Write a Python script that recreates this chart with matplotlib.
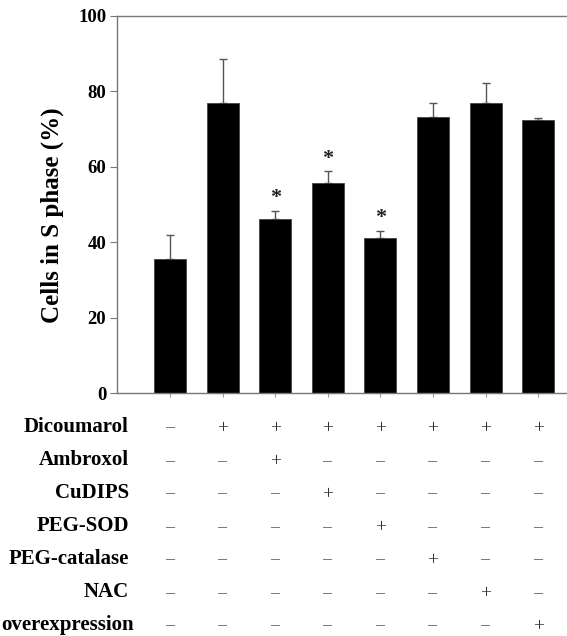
import numpy as np
import matplotlib.pyplot as plt

# bar data
means = [35.6, 76.8, 46.2, 55.8, 41.1, 73.2, 76.9, 72.3]
errors = [6.2, 11.9, 2.0, 3.0, 2.0, 3.8, 5.4, 0.7]
starred = [False, False, True, True, True, False, False, False]

rowLabels = ['Dicoumarol', 'Ambroxol', 'CuDIPS', 'PEG-SOD',
             'PEG-catalase', 'NAC', 'overexpression']
# + / - table, one row per treatment
signs = [
  '-+++++++',
  '--+-----',
  '---+----',
  '----+---',
  '-----+--',
  '------+-',
  '-------+',
]
yTicks = [0, 20, 40, 60, 80, 100]

W, H = 567, 636
plt.rcParams['font.family'] = ['Liberation Serif', 'DejaVu Serif']
fig = plt.figure(figsize=(W / 100, H / 100), dpi=100)

# axes: y axis at x=117px, zero at y=393px, 100 at y=16px; right side runs off the figure
x0, x9 = 117.4, 590.8
ax = fig.add_axes([x0 / W, (H - 393) / H, (x9 - x0) / W, (393 - 16) / H])

xs = np.arange(1, len(means) + 1)
ax.bar(xs, means, width=0.61, color='black', edgecolor='#444444', linewidth=0.6, zorder=2)
ax.errorbar(xs, means, yerr=[np.zeros(len(errors)), errors], fmt='none',
            ecolor='#555555', elinewidth=1.0, capsize=3, capthick=1.0, zorder=1)

for x, m, e, s in zip(xs, means, errors, starred):
  if s:
    ax.text(x, m + e + 3.4, '*', ha='center', va='center', fontsize=16,
            fontweight='bold', color='#222222')

ax.set_xlim(0, 9)
ax.set_ylim(0, 100)
ax.set_yticks(yTicks)
ax.set_yticklabels([str(t) for t in yTicks], fontsize=13.5, fontweight='bold')
ax.set_xticks(xs)
ax.set_xticklabels([])
ax.tick_params(axis='y', direction='out', length=5, width=0.8, color='#777777', pad=3)
ax.tick_params(axis='x', direction='out', length=3, width=0.8, color='#999999')
ax.spines['right'].set_visible(False)
for sp in ['left', 'top', 'bottom']:
  ax.spines[sp].set_color('#777777')
  ax.spines[sp].set_linewidth(1.0)

fig.text(52 / W, 1 - 215 / H, 'Cells in S phase (%)', rotation=90, ha='center',
         va='center', fontsize=18, fontweight='bold')

# treatment table below the axis
rowY0, rowStep = 427, 33
for r, (label, row) in enumerate(zip(rowLabels, signs)):
  ypx = rowY0 + r * rowStep
  yf = 1 - ypx / H
  if r == len(rowLabels) - 1:
    # the long last label starts right at the left edge
    fig.text(1 / W, yf, label, ha='left', va='center', fontsize=15, fontweight='bold')
  else:
    fig.text(129 / W, yf, label, ha='right', va='center', fontsize=15, fontweight='bold')
  for c, ch in enumerate(row):
    xpx = x0 + (c + 1) * (x9 - x0) / 9
    if ch == '+':
      fig.text(xpx / W, yf - 2 / H, '+', ha='center', va='center',
               fontsize=14, color='#333333')
    else:
      fig.text(xpx / W, yf - 3 / H, '\u2212', ha='center', va='center',
               fontsize=14, color='#777777')

fig.savefig('out.png', dpi=100)
